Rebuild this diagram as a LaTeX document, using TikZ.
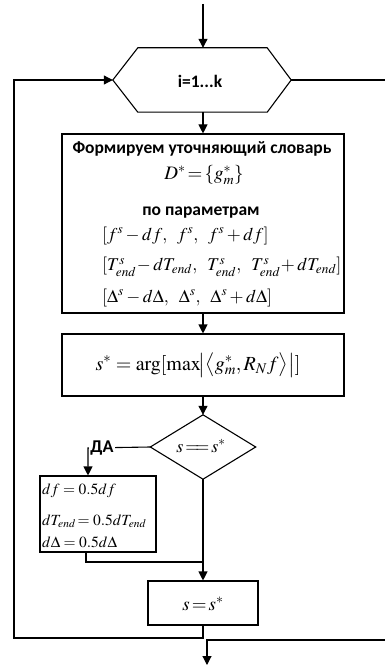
\documentclass[tikz,border=0pt]{standalone}
\usepackage{mathptmx}
\usepackage[no-math]{fontspec}
\setmainfont{Liberation Serif}
\newfontfamily\calib{Carlito}
\usetikzlibrary{arrows.meta,calc}
\tikzset{
  ln/.style={line width=1.1pt},
  arr/.style={ln,-{Triangle[length=9pt,width=9pt]}},
  boxn/.style={draw,ln,inner sep=0pt},
  ghost/.style={inner sep=0pt},
  lbl/.style={font=\calib\bfseries\fontsize{17.5}{20}\selectfont,inner sep=0pt},
  mth/.style={font=\fontsize{18}{20}\selectfont,inner sep=0pt},
}
\begin{document}
\begin{tikzpicture}[x=1pt,y=-1pt]
\useasboundingbox (0,0) rectangle (385,666);
% hexagon
\node[ghost,minimum width=178pt,minimum height=64pt] (hex) at (202,80) {};
\draw[ln] ($(hex.north west)+(25,0)$) -- ($(hex.north east)+(-24,0)$) -- (hex.east)
  -- ($(hex.south east)+(-24,0)$) -- ($(hex.south west)+(25,0)$) -- (hex.west) -- cycle;
\node[lbl,font=\calib\bfseries\fontsize{17.5}{20}\selectfont] (hext) at (200,81) {i=1...k};
\coordinate (top) at (203,4);
\draw[arr] (top) -- (hex.north -| top);
\coordinate (exitR) at (385,80);
\draw[ln] (hex.east) -- (exitR);
% box 1
\node[boxn,minimum width=282pt,minimum height=179pt] (b1) at (203,223.5) {};
\node[lbl] (t1) at (202,149) {Формируем уточняющий словарь};
\node[mth,font=\fontsize{19}{21}\selectfont] (t2) at (204,175) {$D^{*}\!=\!\left\{g^{*}_{m}\right\}$};
\node[lbl] (t3) at (201,213) {по параметрам};
\node[mth,anchor=west] (t4) at (102,236) {$[f^{s}-df,\;\;f^{s},\;\;f^{s}+df]$};
\node[mth,anchor=west] (t5) at (102,267) {$[T^{s}_{end}\!-dT_{end},\;\;T^{s}_{end},\;\;T^{s}_{end}\!+dT_{end}]$};
\node[mth,anchor=west] (t6) at (102,298) {$[\Delta^{s}-d\Delta,\;\;\Delta^{s},\;\;\Delta^{s}+d\Delta]$};
\draw[arr] (hex.south -| top) -- (b1.north -| top);
% box 2
\node[boxn,minimum width=282pt,minimum height=62pt] (b2) at (203,365) {};
\node[mth,font=\fontsize{20}{22}\selectfont] (t7) at (198,365) {$s^{*}=\arg[\max\!\bigl|\bigl\langle g^{*}_{m},R_{N}f\bigr\rangle\bigr|]$};
\draw[arr] (b1.south -| top) -- (b2.north -| top);
% diamond
\node[ghost,minimum width=105pt,minimum height=64pt] (dia) at (203,447) {};
\draw[ln] (dia.north) -- (dia.east) -- (dia.south) -- (dia.west) -- cycle;
\node[mth,font=\fontsize{18}{20}\selectfont] (t8) at (201,446) {$s\!=\!\!=\!s^{*}$};
\draw[arr] (b2.south -| top) -- (dia.north);
% yes branch
\coordinate (c1) at (88,448);
\node[ghost,minimum width=116pt,minimum height=76pt,draw,ln] (b3) at (98,514) {};
\draw[arr] (dia.west) -- (c1) -- (c1 |- b3.north);
\node[lbl,font=\calib\bfseries\fontsize{18}{20}\selectfont,fill=white,inner xsep=1pt] (da) at (102,448) {ДА};
\node[mth,anchor=base west,font=\fontsize{15.5}{17}\selectfont] (u1) at (42,494) {$df=0.5df$};
\node[mth,anchor=base west,font=\fontsize{15.5}{17}\selectfont] (u2) at (42,525) {$dT_{end}\!=0.5dT_{end}$};
\node[mth,anchor=base west,font=\fontsize{15.5}{17}\selectfont] (u3) at (42,547) {$d\Delta=0.5d\Delta$};
\coordinate (c2) at (86,562);
\draw[ln] (b3.south -| c2) -- (c2) -- (c2 -| dia.south);
% box 4
\node[boxn,minimum width=110pt,minimum height=44pt] (b4) at (203,603) {};
\node[mth,font=\fontsize{19}{21}\selectfont] (t9) at (203,604) {$s\!=\!s^{*}$};
\draw[arr] (dia.south) -- (b4.north);
% loop back
\coordinate (c3) at (14,638);
\draw[arr] (b4.south) |- (c3) |- (hex.west);
% incoming bottom
\coordinate (c4) at (385,640);
\coordinate (c5) at (207,640);
\coordinate (c6) at (207,665);
\draw[arr] (c4) -- (c5) -- (c6);
\end{tikzpicture}
\end{document}
